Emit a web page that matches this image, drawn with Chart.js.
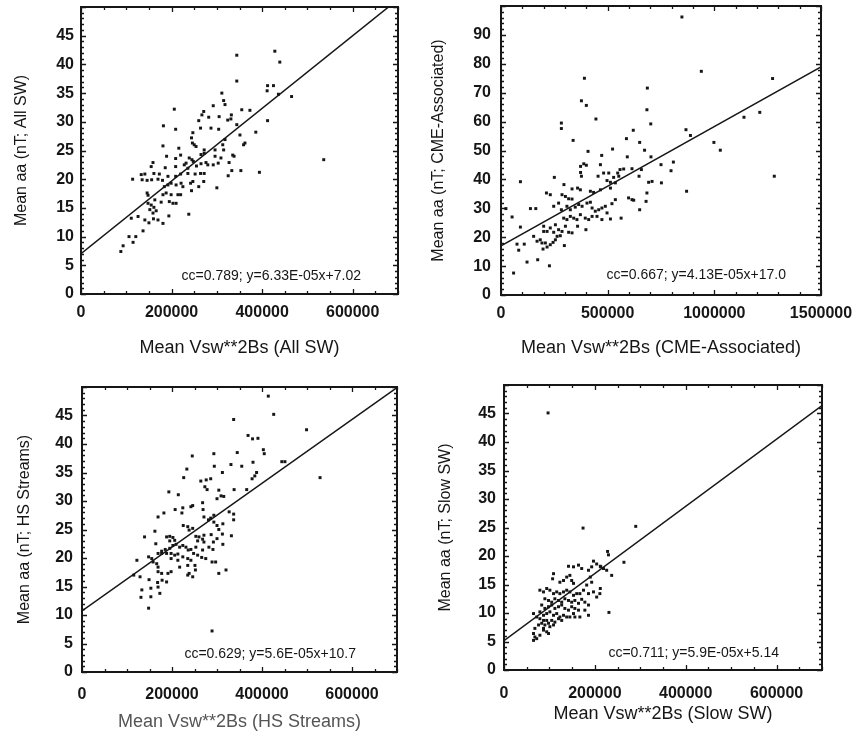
<!DOCTYPE html>
<html>
<head>
<meta charset="utf-8">
<script src="https://cdn.jsdelivr.net/npm/chart.js@4.4.1/dist/chart.umd.min.js"></script>
<style>
  html, body { margin: 0; padding: 0; background: #fff; }
  #page { position: relative; width: 858px; height: 733px; }
  .panel { position: absolute; }
</style>
</head>
<body>
<div id="page">
  <canvas id="c1" class="panel" width="429" height="366" style="left:0;top:0"></canvas>
  <canvas id="c2" class="panel" width="429" height="366" style="left:429px;top:0"></canvas>
  <canvas id="c3" class="panel" width="429" height="367" style="left:0;top:366px"></canvas>
  <canvas id="c4" class="panel" width="429" height="367" style="left:429px;top:366px"></canvas>
</div>
<script>
// === DATA ===

// tick labels
const xTicks700 = [0, 200000, 400000, 600000];
const xTicksCme = [0, 500000, 1000000, 1500000];
const yTicks50 = [0, 5, 10, 15, 20, 25, 30, 35, 40, 45];
const yTicksCme = [0, 10, 20, 30, 40, 50, 60, 70, 80, 90];

// All SW
const allSwX = [
  344000, 428000, 439000, 344000, 412000, 425000, 411000, 465000, 436000, 311000,
  315000, 318000, 206000, 271000, 267000, 292000, 260000, 282000, 305000, 324000,
  331000, 332000, 355000, 373000, 412000, 344000, 209000, 182000, 247000, 264000,
  287000, 304000, 244000, 246000, 351000, 386000, 362000, 359000, 181000, 216000,
  250000, 254000, 272000, 296000, 313000, 315000, 318000, 189000, 209000, 220000,
  239000, 245000, 248000, 265000, 272000, 296000, 309000, 335000, 338000, 159000,
  155000, 186000, 209000, 228000, 232000, 236000, 255000, 265000, 276000, 280000,
  292000, 303000, 327000, 353000, 394000, 325000, 333000, 114000, 133000, 141000,
  161000, 173000, 192000, 209000, 220000, 236000, 252000, 264000, 272000, 135000,
  146000, 156000, 170000, 180000, 184000, 192000, 199000, 210000, 221000, 225000,
  242000, 247000, 260000, 271000, 300000, 146000, 148000, 181000, 188000, 199000,
  214000, 220000, 244000, 163000, 177000, 195000, 203000, 210000, 148000, 155000,
  161000, 166000, 159000, 152000, 194000, 238000, 126000, 141000, 150000, 160000,
  170000, 181000, 111000, 106000, 121000, 115000, 137000, 93000, 88000, 536000
];
const allSwY = [
  41.6, 42.3, 40.4, 37.1, 36.3, 36.3, 35.4, 34.4, 34.8, 35.0,
  33.7, 33.0, 32.2, 31.8, 31.2, 32.8, 30.2, 30.8, 30.9, 30.3,
  30.5, 31.2, 32.1, 32.0, 30.2, 29.5, 28.7, 29.3, 28.1, 28.9,
  28.9, 28.7, 27.2, 26.3, 27.7, 28.2, 26.3, 26.0, 25.8, 25.4,
  26.0, 25.7, 25.1, 25.1, 26.0, 25.1, 26.9, 24.0, 23.6, 24.2,
  23.7, 23.4, 23.1, 24.3, 24.5, 24.0, 23.7, 24.2, 24.0, 22.9,
  22.2, 22.0, 22.2, 22.5, 22.8, 21.9, 22.3, 22.7, 22.9, 22.5,
  22.5, 22.8, 22.9, 21.5, 21.2, 20.6, 21.5, 20.0, 20.8, 20.9,
  21.0, 20.9, 20.5, 20.5, 20.9, 21.0, 20.9, 21.0, 21.0, 19.9,
  19.8, 19.9, 20.0, 19.8, 18.7, 19.0, 19.3, 19.0, 19.3, 18.7,
  19.3, 19.6, 18.7, 19.6, 18.5, 17.6, 17.2, 17.3, 17.6, 17.3,
  17.3, 17.3, 18.0, 16.4, 16.0, 16.1, 15.8, 15.8, 15.8, 15.5,
  15.1, 14.5, 14.1, 14.7, 13.6, 13.9, 13.5, 12.9, 12.4, 13.1,
  12.9, 12.3, 13.2, 10.0, 10.0, 9.0, 11.0, 8.4, 7.4, 23.4
];
const allSwFitX = [0, 700000];
const allSwFitY = [7.02, 51.33];

// CME-Associated
const cmeX = [
  848000, 939000, 391000, 686000, 377000, 400000, 445000, 283000, 283000, 684000,
  702000, 1139000, 1213000, 867000, 888000, 998000, 1028000, 620000, 588000, 338000,
  523000, 408000, 673000, 650000, 472000, 592000, 703000, 750000, 808000, 797000,
  373000, 388000, 400000, 373000, 377000, 466000, 558000, 575000, 547000, 614000,
  658000, 647000, 455000, 481000, 505000, 250000, 91000, 870000, 708000, 752000,
  692000, 684000, 295000, 333000, 359000, 372000, 286000, 302000, 317000, 333000,
  213000, 231000, 419000, 434000, 466000, 497000, 513000, 536000, 513000, 552000,
  528000, 598000, 614000, 622000, 680000, 650000, 138000, 163000, 52000, 91000,
  247000, 270000, 283000, 309000, 325000, 348000, 364000, 380000, 403000, 419000,
  427000, 442000, 458000, 473000, 489000, 497000, 520000, 536000, 513000, 563000,
  473000, 450000, 294000, 309000, 325000, 341000, 356000, 372000, 395000, 411000,
  427000, 398000, 255000, 270000, 286000, 302000, 317000, 333000, 359000, 263000,
  278000, 200000, 200000, 216000, 231000, 247000, 153000, 169000, 184000, 192000,
  208000, 231000, 244000, 255000, 297000, 75000, 109000, 83000, 197000, 216000,
  122000, 172000, 227000, 59000, 1281000, 1273000, 23000
];
const cmeY = [
  96.2, 77.4, 75.0, 71.6, 67.2, 65.6, 60.9, 59.5, 57.6, 64.1,
  59.2, 61.5, 63.2, 57.2, 55.2, 52.8, 50.1, 57.0, 54.1, 53.5,
  50.5, 49.7, 50.1, 52.8, 48.3, 47.8, 47.8, 45.1, 46.0, 43.0,
  44.5, 45.4, 44.9, 42.4, 41.1, 45.1, 43.4, 43.6, 42.2, 43.7,
  43.4, 41.1, 41.1, 42.2, 42.2, 40.7, 39.2, 35.9, 39.3, 38.8,
  39.0, 35.3, 38.2, 36.7, 37.0, 36.4, 34.7, 34.1, 33.3, 33.2,
  35.3, 34.7, 35.9, 35.5, 36.4, 39.6, 39.0, 38.8, 37.0, 41.1,
  40.7, 33.6, 33.0, 32.8, 32.4, 29.5, 29.9, 29.9, 27.0, 23.5,
  30.7, 31.8, 29.5, 30.7, 29.5, 30.4, 31.3, 30.7, 31.8, 32.1,
  30.1, 29.0, 29.5, 30.1, 30.7, 28.4, 31.6, 33.0, 26.3, 26.6,
  26.1, 27.2, 26.6, 26.1, 27.2, 26.6, 26.1, 27.8, 26.6, 26.1,
  27.2, 22.6, 24.3, 22.6, 22.0, 23.8, 21.7, 21.5, 23.8, 20.3,
  20.5, 23.8, 22.0, 22.0, 23.2, 21.7, 20.3, 18.6, 19.1, 18.0,
  18.0, 17.4, 18.2, 19.1, 17.1, 17.6, 17.6, 15.5, 15.9, 16.6,
  11.4, 12.2, 10.1, 7.6, 41.1, 74.9, 29.9
];
const cmeFitX = [0, 1500000];
const cmeFitY = [17.0, 78.95];

// HS Streams
const hsX = [
  414000, 426000, 337000, 499000, 369000, 379000, 391000, 403000, 405000, 293000,
  245000, 345000, 529000, 451000, 444000, 331000, 355000, 380000, 233000, 294000,
  312000, 388000, 384000, 378000, 226000, 264000, 276000, 286000, 273000, 278000,
  338000, 366000, 193000, 214000, 304000, 309000, 300000, 315000, 246000, 242000,
  224000, 207000, 222000, 268000, 269000, 271000, 286000, 293000, 281000, 327000,
  337000, 337000, 169000, 182000, 225000, 235000, 238000, 246000, 293000, 300000,
  304000, 313000, 332000, 139000, 162000, 188000, 195000, 202000, 195000, 206000,
  253000, 260000, 268000, 257000, 271000, 287000, 292000, 300000, 312000, 313000,
  164000, 169000, 177000, 185000, 195000, 202000, 209000, 217000, 224000, 231000,
  236000, 242000, 248000, 253000, 268000, 271000, 282000, 291000, 148000, 158000,
  166000, 169000, 177000, 188000, 198000, 206000, 213000, 224000, 235000, 242000,
  257000, 266000, 275000, 289000, 297000, 122000, 198000, 213000, 217000, 235000,
  251000, 155000, 169000, 177000, 191000, 198000, 235000, 238000, 246000, 252000,
  304000, 320000, 115000, 129000, 149000, 168000, 178000, 188000, 133000, 153000,
  169000, 173000, 131000, 153000, 148000, 289000
];
const hsY = [
  48.4, 45.2, 44.3, 42.5, 41.5, 40.9, 41.0, 39.0, 38.3, 38.3,
  37.9, 38.5, 34.1, 36.9, 36.9, 36.4, 36.1, 36.8, 35.6, 36.1,
  35.0, 35.0, 34.4, 33.9, 34.1, 33.5, 33.7, 33.9, 32.5, 32.0,
  32.0, 32.0, 31.6, 31.1, 31.9, 30.9, 30.4, 30.8, 29.2, 29.0,
  28.8, 28.5, 27.9, 29.7, 28.5, 27.2, 27.0, 27.5, 26.7, 28.1,
  27.7, 26.7, 27.2, 27.9, 25.7, 25.5, 24.9, 25.2, 26.3, 25.7,
  25.0, 26.0, 23.9, 23.7, 24.7, 23.7, 23.8, 23.6, 23.0, 23.1,
  23.8, 23.7, 23.3, 23.0, 24.0, 24.1, 22.8, 23.4, 24.2, 22.4,
  22.5, 20.8, 21.2, 21.5, 21.7, 22.2, 22.4, 21.9, 22.2, 21.9,
  21.4, 21.5, 20.8, 21.9, 21.4, 22.8, 21.9, 21.5, 20.2, 19.3,
  19.0, 18.4, 20.8, 20.8, 20.8, 20.5, 20.7, 20.2, 19.9, 19.6,
  20.5, 20.1, 19.9, 19.3, 19.3, 19.6, 19.9, 19.6, 18.4, 18.7,
  18.7, 19.9, 17.6, 17.3, 17.3, 17.6, 17.0, 17.3, 16.7, 17.9,
  17.3, 17.9, 17.0, 16.7, 16.2, 15.7, 16.1, 15.8, 14.4, 14.7,
  14.9, 13.8, 13.1, 13.2, 11.2, 7.2
];
const hsFitX = [0, 700000];
const hsFitY = [10.7, 49.9];

// Slow SW
const slowX = [
  97000, 174000, 290000, 231000, 264000, 237000, 228000, 213000,
  230000, 197000, 204000, 212000, 193000, 186000, 219000, 226000,
  142000, 153000, 164000, 171000, 109000, 107000, 123000, 131000, 138000, 145000, 149000, 153000,
  190000, 193000, 182000, 175000, 186000, 197000, 212000, 204000, 211000,
  94000, 87000, 79000, 101000, 109000, 116000, 123000, 131000, 138000, 145000, 153000, 160000, 167000,
  90000, 98000, 105000, 112000, 120000, 127000, 134000, 142000, 149000, 156000, 164000, 171000, 178000, 186000,
  83000, 90000, 98000, 105000, 112000, 120000, 127000, 134000, 142000, 149000, 156000, 164000, 178000, 186000,
  79000, 87000, 94000, 101000, 109000, 116000, 123000, 131000, 138000, 153000, 167000,
  65000, 72000, 79000, 87000, 94000, 105000, 112000, 120000, 127000, 145000, 156000,
  76000, 83000, 90000, 98000, 109000, 68000, 87000, 101000,
  65000, 68000, 72000, 79000, 87000, 94000, 98000, 65000
];
const slowY = [
  45.1, 24.9, 25.2, 10.1, 18.9, 16.6, 20.8, 18.1,
  20.2, 19.1, 18.6, 18.2, 18.1, 17.5, 17.8, 17.5,
  18.2, 18.1, 18.4, 17.8, 16.9, 16.0, 15.4, 15.7, 16.3, 16.6, 15.7, 15.2,
  16.3, 15.4, 14.9, 14.0, 13.4, 13.7, 14.3, 12.8, 13.4,
  14.3, 13.7, 14.0, 14.0, 13.4, 13.7, 13.4, 13.7, 14.0, 13.7, 13.1, 13.4, 13.4,
  12.5, 12.2, 11.9, 12.5, 12.2, 11.9, 12.5, 12.2, 11.9, 12.2, 11.7, 12.4, 11.9, 11.4,
  11.4, 10.8, 11.1, 11.4, 10.8, 11.1, 11.4, 10.8, 10.5, 11.1, 10.8, 10.5, 10.5, 9.6,
  10.2, 9.6, 9.9, 10.2, 9.6, 9.9, 9.3, 9.6, 9.3, 9.9, 9.3,
  9.9, 9.3, 9.0, 8.7, 8.7, 8.7, 8.4, 9.0, 8.7, 9.3, 9.3,
  7.9, 8.2, 7.9, 8.2, 7.9, 7.3, 7.3, 7.6,
  6.4, 5.8, 5.5, 6.1, 7.0, 6.7, 6.4, 5.2
];
const slowFitX = [0, 700000];
const slowFitY = [5.14, 46.4];

// === STYLE ===
const INK = "#161616";
const TITLE_FAMILY = "'Liberation Sans', Arial, sans-serif";
const TICK_FONT = { family: TITLE_FAMILY, size: 16, weight: "bold" };

function toPoints(xs, ys) { return xs.map((x, i) => ({ x, y: ys[i] })); }

// frame, inward major/minor ticks on all four sides, and the fit note
const framePlugin = {
  id: "frame",
  afterDatasetsDraw(chart, args, o) {
    const { ctx, chartArea: a, scales: { x, y } } = chart;
    ctx.save();
    ctx.strokeStyle = INK;
    ctx.lineWidth = 1.3;
    ctx.beginPath();
    for (let v = x.min; v <= x.max; v += o.xMinor) {
      const px = Math.round(x.getPixelForValue(v)) + 0.5;
      const len = v % o.xMajor === 0 ? 5 : 3;
      ctx.moveTo(px, a.bottom); ctx.lineTo(px, a.bottom - len);
      ctx.moveTo(px, a.top); ctx.lineTo(px, a.top + len);
    }
    for (let v = y.min; v <= y.max; v += o.yMinor) {
      const py = Math.round(y.getPixelForValue(v)) + 0.5;
      const len = v % o.yMajor === 0 ? 5 : 3;
      ctx.moveTo(a.left, py); ctx.lineTo(a.left + len, py);
      ctx.moveTo(a.right, py); ctx.lineTo(a.right - len, py);
    }
    ctx.stroke();
    ctx.lineWidth = 2;
    ctx.strokeRect(a.left, a.top, a.right - a.left, a.bottom - a.top);

    ctx.fillStyle = INK;
    ctx.font = "14px " + TITLE_FAMILY;
    ctx.textAlign = "right";
    ctx.textBaseline = "middle";
    ctx.fillText(o.note, a.right - o.noteRight, a.bottom - o.noteUp);
    ctx.restore();
  }
};

function makePanel(id, p) {
  new Chart(document.getElementById(id), {
    type: "scatter",
    data: {
      datasets: [
        {
          data: toPoints(p.xs, p.ys),
          pointStyle: "rect",
          pointRadius: 2.1,
          pointBorderWidth: 0,
          backgroundColor: INK,
          borderColor: INK
        },
        {
          type: "line",
          data: toPoints(p.fitX, p.fitY),
          borderColor: INK,
          borderWidth: 1.5,
          pointRadius: 0,
          fill: false
        }
      ]
    },
    options: {
      responsive: false,
      animation: false,
      events: [],
      layout: { padding: { top: p.top, right: p.right, left: 0, bottom: 0 } },
      plugins: {
        legend: { display: false },
        tooltip: { enabled: false },
        frame: p.frame
      },
      scales: {
        x: {
          type: "linear",
          min: 0, max: p.xMax,
          afterBuildTicks: s => { s.ticks = p.xTicks.map(v => ({ value: v })); },
          afterFit: s => { s.height = p.xAxisH; s.paddingLeft = 0; s.paddingRight = 0; },
          grid: { display: false, drawTicks: false },
          border: { display: false },
          ticks: {
            autoSkip: false,
            maxRotation: 0,
            padding: p.xTickPad,
            color: INK,
            font: TICK_FONT,
            callback: v => String(v)
          },
          title: {
            display: true,
            text: p.xTitle,
            color: p.xTitleColor || INK,
            font: { family: TITLE_FAMILY, size: 18 },
            padding: { top: 0, bottom: p.xTitlePad }
          }
        },
        y: {
          type: "linear",
          min: 0, max: p.yMax,
          afterBuildTicks: s => { s.ticks = p.yTicks.map(v => ({ value: v })); },
          afterFit: s => { s.width = p.yAxisW; s.paddingTop = 0; s.paddingBottom = 0; },
          grid: { display: false, drawTicks: false },
          border: { display: false },
          ticks: {
            autoSkip: false,
            padding: p.yTickPad,
            color: INK,
            font: TICK_FONT,
            callback: v => String(v)
          },
          title: {
            display: true,
            text: p.yTitle,
            color: INK,
            font: { family: TITLE_FAMILY, size: 16 },
            padding: { top: p.yTitlePad, bottom: 0 }
          }
        }
      }
    },
    plugins: [framePlugin]
  });
}

makePanel("c1", {
  xs: allSwX, ys: allSwY, fitX: allSwFitX, fitY: allSwFitY,
  xMax: 700000, xTicks: xTicks700, yMax: 50, yTicks: yTicks50,
  top: 7, right: 31, yAxisW: 81, xAxisH: 72,
  xTickPad: 9, yTickPad: 7, xTitlePad: 7, yTitlePad: 12,
  xTitle: "Mean Vsw**2Bs (All SW)", yTitle: "Mean aa (nT; All SW)",
  frame: { xMinor: 50000, xMajor: 200000, yMinor: 1, yMajor: 5,
           note: "cc=0.789; y=6.33E-05x+7.02", noteRight: 37, noteUp: 18 }
});

makePanel("c2", {
  xs: cmeX, ys: cmeY, fitX: cmeFitX, fitY: cmeFitY,
  xMax: 1500000, xTicks: xTicksCme, yMax: 100, yTicks: yTicksCme,
  top: 6, right: 37, yAxisW: 72, xAxisH: 71,
  xTickPad: 9, yTickPad: 10, xTitlePad: 7, yTitlePad: 0,
  xTitle: "Mean Vsw**2Bs (CME-Associated)", yTitle: "Mean aa (nT; CME-Associated)",
  frame: { xMinor: 100000, xMajor: 500000, yMinor: 2, yMajor: 10,
           note: "cc=0.667; y=4.13E-05x+17.0", noteRight: 35, noteUp: 20 }
});

makePanel("c3", {
  xs: hsX, ys: hsY, fitX: hsFitX, fitY: hsFitY,
  xMax: 700000, xTicks: xTicks700, yMax: 50, yTicks: yTicks50,
  top: 21, right: 32, yAxisW: 82, xAxisH: 61,
  xTickPad: 13, yTickPad: 9, xTitlePad: 0, yTitlePad: 15,
  xTitle: "Mean Vsw**2Bs (HS Streams)", yTitle: "Mean aa (nT; HS Streams)",
  xTitleColor: "#555",
  frame: { xMinor: 50000, xMajor: 200000, yMinor: 1, yMajor: 5,
           note: "cc=0.629; y=5.6E-05x+10.7", noteRight: 41, noteUp: 18 }
});

makePanel("c4", {
  xs: slowX, ys: slowY, fitX: slowFitX, fitY: slowFitY,
  xMax: 700000, xTicks: xTicks700, yMax: 50, yTicks: yTicks50,
  top: 19, right: 36, yAxisW: 75, xAxisH: 63,
  xTickPad: 14, yTickPad: 8, xTitlePad: 8, yTitlePad: 7,
  xTitle: "Mean Vsw**2Bs (Slow SW)", yTitle: "Mean aa (nT; Slow SW)",
  frame: { xMinor: 50000, xMajor: 200000, yMinor: 1, yMajor: 5,
           note: "cc=0.711; y=5.9E-05x+5.14", noteRight: 43, noteUp: 17 }
});
</script>
</body>
</html>
